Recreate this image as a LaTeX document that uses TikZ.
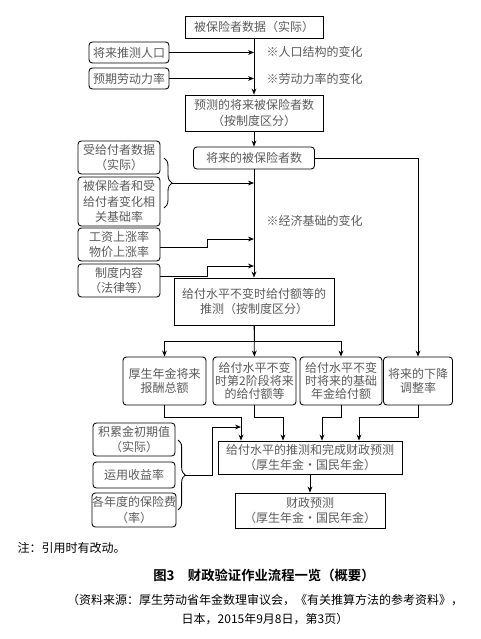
\documentclass[tikz,border=0pt]{standalone}
\usepackage{fontspec}
\setmainfont{Noto Sans CJK SC}
\newfontfamily\hei{Noto Sans CJK SC Bold}
\usetikzlibrary{arrows.meta,decorations.pathreplacing}
\definecolor{txtgray}{HTML}{5A5A5A}
\tikzset{
  box/.style={draw,line width=0.65pt,inner sep=0pt,align=center,text=txtgray,font=\fontsize{9pt}{11.5pt}\selectfont},
  rbox/.style={box,rounded corners=2.5pt},
  rowbox/.style={rbox,minimum height=36pt,font=\fontsize{9pt}{10pt}\selectfont},
  arr/.style={-{Stealth[length=4.5pt,width=3.6pt]},line width=0.65pt},
  memo/.style={anchor=west,text=txtgray,font=\fontsize{9pt}{11pt}\selectfont},
  brc/.style={decorate,decoration={brace,amplitude=#1},line width=0.65pt},
}
\begin{document}
\begin{tikzpicture}[x=0.75pt,y=-0.75pt]
    \useasboundingbox (0,0) rectangle (481,639);
    % 上段のノード
    \node[box,minimum width=103.5pt,minimum height=16.5pt] (D) at (254,27) {被保险者数据（实际）};
    \node[rbox,minimum width=60pt,minimum height=15.75pt] (Pop) at (129,52.5) {将来推测人口};
    \node[rbox,minimum width=60pt,minimum height=15.75pt] (Lab) at (129,78.5) {预期劳动力率};
    \node[box,minimum width=103.5pt,minimum height=27pt] (Pr) at (254,113) {预测的将来被保险者数\\（按制度区分）};
    \node[rbox,minimum width=90.75pt,minimum height=16.5pt] (F) at (254,158) {将来的被保险者数};
    \node[memo] (M1) at (262,52) {※人口结构的变化};
    \node[memo] (M2) at (262,79) {※劳动力率的变化};
    \node[memo] (M3) at (262,221) {※经济基础的变化};
    % 左側の入力
    \node[rbox,minimum width=61.5pt,minimum height=24.75pt] (R) at (119,157.5) {受给付者数据\\（实际）};
    \node[rbox,minimum width=61.5pt,minimum height=36.75pt] (B) at (119,201.5) {被保险者和受\\给付者变化相\\关基础率};
    \node[rbox,minimum width=61.5pt,minimum height=24.75pt] (W) at (119,244.5) {工资上涨率\\物价上涨率};
    \node[rbox,minimum width=61.5pt,minimum height=24.75pt] (S) at (119,280.5) {制度内容\\（法律等）};
    \node[box,minimum width=120pt,minimum height=35.25pt] (E) at (254,301.5) {给付水平不变时给付额等的\\推测（按制度区分）};
    % 中段の4つ
    \node[rowbox,minimum width=62.25pt] (A1) at (164.5,381) {厚生年金将来\\报酬总额};
    \node[rowbox,minimum width=62.25pt] (A2) at (254.5,381) {给付水平不变\\时第2阶段将来\\的给付额等};
    \node[rowbox,minimum width=61.5pt] (A3) at (341,381) {给付水平不变\\时将来的基础\\年金给付额};
    \node[rowbox,minimum width=51.75pt] (A4) at (418,381) {将来的下降\\调整率};
    % 下段
    \node[rbox,minimum width=61.5pt,minimum height=24.75pt] (K1) at (134,439.5) {积累金初期值\\（实际）};
    \node[rbox,minimum width=61.5pt,minimum height=19.5pt] (K2) at (134,475) {运用收益率};
    \node[rbox,minimum width=61.5pt,minimum height=25.5pt] (K3) at (134,510) {各年度的保险费\\（率）};
    \node[box,minimum width=138pt,minimum height=24.75pt] (Z) at (310,457.5) {给付水平的推测和完成财政预测\\（厚生年金·国民年金）};
    \node[box,minimum width=112.5pt,minimum height=26.25pt] (Y) at (310,510.5) {财政预测\\（厚生年金·国民年金）};
    % ノードの参照
    \draw[arr] (D) -- (Pr);
    \draw[arr] (Pop) -- (Pop -| D);
    \draw[arr] (Lab) -- (Lab -| D);
    \draw[arr] (Pr) -- (F);
    \draw[arr] (F) -- (E);
    \draw[arr] (F.east) -| (A4.north);
    \draw[brc=6pt] (164,158) -- (164,208);
    \coordinate (b1) at (172,183);
    \draw[arr] (b1) -- (b1 -| D);
    \draw[arr] ([yshift=-2pt]W.east) -| (207,239) -- (254,239);
    \draw[arr] ([yshift=3.4pt]S.east) -| (207,266) -- (254,266);
    \draw[arr] (E) -- (A2);
    \draw[arr] (E.south) -- ++(0,16) -| (A1.north);
    \draw[arr] (E.south) -- ++(0,16) -| (A3.north);
    \draw[arr] (A1.south) -- ++(0,12) -| ([xshift=-51.75pt]Z.north);
    \draw[arr] (A2.south) -- ++(0,12) -| ([xshift=-20.25pt]Z.north);
    \draw[arr] (A3.south) -- ++(0,12) -| ([xshift=9pt]Z.north);
    \draw[arr] (A4.south) -- ++(0,12) -| ([xshift=36.75pt]Z.north);
    \draw[brc=5.5pt] (178,440) -- (178,510);
    \coordinate (b2) at (185,475);
    \draw[arr] (b2) -| (212,427) -- (241,427);
    \draw[arr] (Z) -- (Y);
    % 注と図題
    \node[anchor=west,font=\fontsize{9pt}{11pt}\selectfont] (N) at (13,548) {注：引用时有改动。};
    \node[font=\hei\fontsize{10pt}{12pt}\selectfont] (T) at (264,575) {图3\quad 财政验证作业流程一览（概要）};
    \node[align=center,font=\fontsize{9pt}{14.5pt}\selectfont] (Src) at (265,609.5) {（资料来源：厚生劳动省年金数理审议会，《有关推算方法的参考资料》，\\日本，2015年9月8日，第3页）};
\end{tikzpicture}
\end{document}
